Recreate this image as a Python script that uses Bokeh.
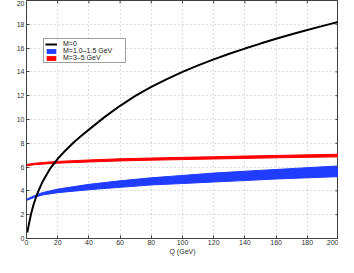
import numpy as np
from bokeh.plotting import figure
from bokeh.models import Range1d, Legend, LegendItem, Label, FixedTicker
from bokeh.embed import file_html
from bokeh.resources import INLINE

# M=0 curve
q_m0 = [0.5, 1, 2, 3, 4, 5, 7, 10, 15, 20, 25, 30, 35, 40, 50, 60, 70, 80, 90, 100,
        110, 120, 130, 140, 150, 160, 170, 180, 190, 200]
n_m0 = [0.5, 0.85, 1.5, 2.1, 2.6, 3.05, 3.8, 4.7, 5.85, 6.7, 7.4, 8.05, 8.62, 9.15, 10.2, 11.15,
        12.0, 12.75, 13.4, 14.0, 14.55, 15.05, 15.52, 15.96, 16.38, 16.78, 17.16, 17.52, 17.87, 18.2]

# Bands
q_band = [0, 5, 10, 20, 40, 60, 80, 100, 120, 140, 160, 180, 200]
blue_lo = [3.2, 3.45, 3.65, 3.85, 4.1, 4.3, 4.5, 4.62, 4.75, 4.87, 5.0, 5.1, 5.2]
blue_hi = [3.3, 3.6, 3.85, 4.15, 4.55, 4.85, 5.1, 5.3, 5.5, 5.65, 5.8, 5.95, 6.1]
red_lo = [6.1, 6.2, 6.25, 6.33, 6.43, 6.52, 6.58, 6.63, 6.68, 6.73, 6.78, 6.82, 6.86]
red_hi = [6.22, 6.32, 6.38, 6.48, 6.6, 6.7, 6.76, 6.82, 6.87, 6.93, 6.98, 7.03, 7.08]

x_ticks = [0, 20, 40, 60, 80, 100, 120, 140, 160, 180, 200]
y_ticks = [0, 2, 4, 6, 8, 10, 12, 14, 16, 18, 20]

FONT = "Liberation Sans"
FS = "7px"
AX = "#404040"
TXT = "#303030"

p = figure(width=338, height=257, output_backend="svg", toolbar_location=None,
           x_range=Range1d(0, 200), y_range=Range1d(0, 20),
           min_border_top=0, min_border_right=0, min_border_left=0, min_border_bottom=0)
p.outline_line_color = AX
p.outline_line_width = 1

p.xaxis.ticker = FixedTicker(ticks=x_ticks)
p.yaxis.ticker = FixedTicker(ticks=y_ticks)
for ax in p.xaxis + p.yaxis:
    ax.axis_line_color = AX
    ax.major_tick_line_color = AX
    ax.major_tick_in = 3
    ax.major_tick_out = 0
    ax.minor_tick_line_color = None
    ax.major_label_text_font = FONT
    ax.major_label_text_font_size = FS
    ax.major_label_text_color = TXT
    ax.major_label_standoff = 2
    ax.axis_label_text_font = FONT
    ax.axis_label_text_font_size = FS
    ax.axis_label_text_font_style = "normal"
    ax.axis_label_text_color = TXT
p.xaxis.axis_label = "Q (GeV)"
p.xaxis.axis_label_standoff = 0
p.xaxis.major_label_standoff = 1
p.yaxis.axis_label = " "
p.yaxis.axis_label_standoff = 3

p.xgrid.ticker = FixedTicker(ticks=x_ticks)
p.ygrid.ticker = FixedTicker(ticks=y_ticks)
for g in (p.xgrid, p.ygrid):
    g.grid_line_color = "#b8b8b8"
    g.grid_line_dash = "1 3"
    g.grid_line_width = 1

BLUE = "#1f3cff"
RED = "#ff0000"

rb = p.varea(x=q_band, y1=blue_lo, y2=blue_hi, fill_color=BLUE)
p.line(q_band, blue_lo, line_color=BLUE, line_width=1)
p.line(q_band, blue_hi, line_color=BLUE, line_width=1)
rr = p.varea(x=q_band, y1=red_lo, y2=red_hi, fill_color=RED)
p.line(q_band, red_lo, line_color=RED, line_width=1)
p.line(q_band, red_hi, line_color=RED, line_width=1)
rk = p.line(q_m0, n_m0, line_color="black", line_width=2)

# inward ticks on the right and top edges (box style)
p.scatter(x=[x_ticks[-1]] * len(y_ticks), y=y_ticks, marker="dash", size=6,
          line_color=AX, line_width=1)
p.scatter(x=x_ticks, y=[y_ticks[-1]] * len(x_ticks), marker="dash", size=6, angle=np.pi / 2,
          line_color=AX, line_width=1)

legend = Legend(items=[
    LegendItem(label="M=0", renderers=[rk]),
    LegendItem(label="M=1.0\u20131.5 GeV", renderers=[rb]),
    LegendItem(label="M=3\u20135 GeV", renderers=[rr]),
], location=(17, 175))
legend.label_text_font = FONT
legend.label_text_font_size = "7px"
legend.label_text_color = "#202020"
legend.label_height = 7
legend.label_width = 61
legend.label_standoff = 6
legend.glyph_height = 6
legend.glyph_width = 12
legend.spacing = 0
legend.padding = 1
legend.margin = 0
legend.border_line_color = AX
legend.border_line_width = 1
legend.background_fill_alpha = 1
p.add_layout(legend, "center")

p.add_layout(Label(x=-12, y=10, text="N", angle=np.pi / 2, text_font=FONT,
                   text_font_size="7px", text_color=TXT,
                   text_align="center", text_baseline="bottom"))
p.add_layout(Label(x=-10.2, y=10.6, text="q", angle=np.pi / 2, text_font=FONT,
                   text_font_size="5px", text_color=TXT,
                   text_align="center", text_baseline="bottom"))

open("out.html", "w").write(file_html(p, INLINE))
